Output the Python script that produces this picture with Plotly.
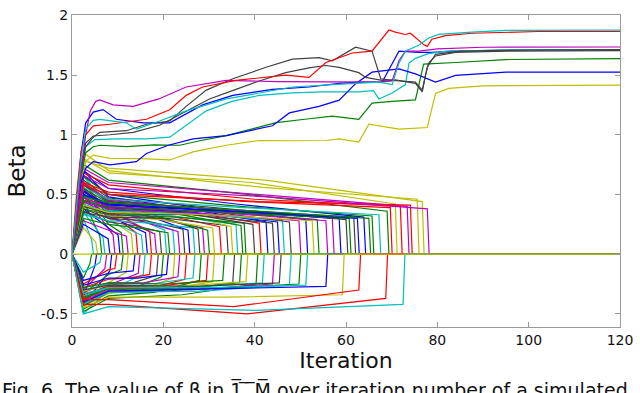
import plotly.graph_objects as go

# old MATLAB line colour order
COLORS = {"b": "#0000ff", "g": "#008000", "r": "#ff0000", "c": "#00bfbf",
          "m": "#bf00bf", "y": "#bfbf00", "k": "#404040"}

# coefficients that drop out of the model, positive side
pos_drop = [4.3, 5.2, 6.1, 6.8, 7.9, 9.0, 10.1, 10.8, 11.9, 13.0, 14.0, 15.2, 16.1, 17.0, 18.1, 19.2,
            20.3, 21.0, 22.1, 23.2, 24.3, 25.4, 26.5, 27.6, 28.6, 29.7, 30.8, 32.3, 33.8, 34.8, 35.9,
            37.0, 37.7, 39.6, 41.0, 42.5, 43.9, 45.0, 46.1, 47.6, 49.7, 51.2, 52.6, 53.7, 55.6, 57.0,
            58.5, 60.0, 60.7, 61.7, 62.5, 63.9, 65.0, 65.7, 67.2, 69.0, 69.7, 70.8, 71.9, 73.4, 74.1,
            75.6, 76.7, 77.8]
pos_peak = [0.30, 0.22, 0.45, 0.35, 0.25, 0.50, 0.38, 0.55, 0.28, 0.42, 0.60, 0.33, 0.48, 0.40, 0.52,
            0.36, 0.65, 0.30, 0.45, 0.55, 0.38, 0.50, 0.34, 0.60, 0.44, 0.40, 0.52, 0.47, 0.35, 0.62,
            0.42, 0.50, 0.38, 0.56, 0.45, 0.70, 0.40, 0.53, 0.48, 0.58, 0.44, 0.66, 0.41, 0.55, 0.47,
            0.60, 0.50, 0.62, 0.45, 0.58, 0.52, 0.70, 0.48, 0.65, 0.56, 0.75, 0.60, 0.80, 0.68, 0.72,
            0.58, 0.85, 0.78, 0.66]
pos_it8 = [None] * 6 + [0.22, 0.25, 0.20, 0.30, 0.35, 0.28, 0.32, 0.36, 0.30, 0.27, 0.42, 0.25, 0.38,
                        0.33, 0.30, 0.40, 0.28, 0.45, 0.34, 0.36, 0.32, 0.38, 0.31, 0.44, 0.35, 0.40,
                        0.33, 0.37, 0.42, 0.48, 0.34, 0.39, 0.36, 0.46, 0.38, 0.50, 0.35, 0.43, 0.40,
                        0.45, 0.41, 0.47, 0.39, 0.44, 0.42, 0.55, 0.43, 0.50, 0.46, 0.62, 0.52, 0.68,
                        0.58, 0.60, 0.50, 0.70, 0.72, 0.55]
pos_mid = [None] * 12 + [0.25, 0.28, 0.26, 0.24, 0.30, 0.22, 0.30, 0.27, 0.28, 0.32, 0.26, 0.33, 0.30,
                         0.31, 0.29, 0.33, 0.30, 0.36, 0.32, 0.34, 0.31, 0.35, 0.36, 0.38, 0.33, 0.35,
                         0.34, 0.37, 0.34, 0.38, 0.33, 0.36, 0.35, 0.37, 0.36, 0.38, 0.35, 0.37, 0.36,
                         0.42, 0.37, 0.40, 0.39, 0.50, 0.44, 0.60, 0.46, 0.50, 0.44, 0.56, 0.62, 0.48]
pos_end = [0.12, 0.10, 0.15, 0.14, 0.13, 0.16, 0.16, 0.18, 0.15, 0.17,
           0.18, 0.16, 0.18, 0.19, 0.17, 0.19, 0.20, 0.18, 0.20, 0.19,
           0.21, 0.20, 0.22, 0.21, 0.22, 0.20, 0.22, 0.23, 0.24, 0.23,
           0.25, 0.24, 0.26, 0.25, 0.26, 0.27, 0.26, 0.27, 0.28, 0.27,
           0.28, 0.29, 0.28, 0.29, 0.28, 0.30, 0.30, 0.29, 0.30, 0.31,
           0.30, 0.31, 0.30, 0.32, 0.33, 0.36, 0.39, 0.42, 0.40, 0.40,
           0.41, 0.46, 0.44, 0.38]
pos_color = "cygcbmbgmyrcbrmkcgcmkbckmgyrkycggkrbkbckmbygmmbkgkbbggcgryrmryym"

# coefficients that drop out of the model, negative side
neg_drop = [3.9, 5.0, 6.1, 7.2, 8.3, 9.4, 10.8, 11.9, 13.4, 14.5, 15.6, 17.0, 18.5, 19.6, 20.7, 22.1,
            23.2, 24.7, 26.5, 27.9, 29.4, 30.8, 33.0, 35.2, 36.7, 38.1, 40.3, 41.7, 43.9, 45.4, 47.6,
            49.7, 51.2, 55.6, 59.2, 62.8, 68.7, 72.5]
neg_peak = [-0.20, -0.35, -0.15, -0.30, -0.42, -0.25, -0.33, -0.45, -0.22, -0.38, -0.50, -0.28, -0.36,
            -0.41, -0.26, -0.44, -0.32, -0.38, -0.30, -0.46, -0.34, -0.40, -0.28, -0.43, -0.36, -0.31,
            -0.48, -0.35, -0.39, -0.30, -0.42, -0.37, -0.33, -0.40, -0.45, -0.38, -0.42, -0.50]
neg_it8 = [None] * 5 + [-0.13, -0.17, -0.24, -0.16, -0.26, -0.30, -0.21, -0.26, -0.31, -0.20, -0.33,
                        -0.24, -0.29, -0.25, -0.35, -0.27, -0.31, -0.24, -0.32, -0.28, -0.26, -0.37,
                        -0.28, -0.30, -0.26, -0.32, -0.29, -0.28, -0.31, -0.36, -0.38, -0.42, -0.44]
neg_mid = [None] * 11 + [-0.20, -0.24, -0.28, -0.20, -0.30, -0.24, -0.29, -0.25, -0.32, -0.27, -0.30,
                         -0.25, -0.31, -0.29, -0.27, -0.34, -0.28, -0.30, -0.27, -0.31, -0.29, -0.28,
                         -0.29, -0.36, -0.44, -0.50, -0.47]
neg_end = [-0.08, -0.10, -0.07, -0.12, -0.14, -0.12, -0.13, -0.15, -0.14, -0.16,
           -0.17, -0.17, -0.18, -0.19, -0.17, -0.20, -0.19, -0.21, -0.20, -0.22,
           -0.22, -0.23, -0.22, -0.24, -0.24, -0.23, -0.25, -0.24, -0.25, -0.24,
           -0.26, -0.25, -0.26, -0.27, -0.34, -0.30, -0.37, -0.42]
neg_color = "gbcmbrgybmcrkgbymrcgrygkgygcmkcgcbyrrc"

# coefficients that stay in the model
red_x = [0, 1, 2, 3, 4.65, 8.3, 16.3, 21.4, 25.0, 28.6, 35.9, 46.8, 51.9, 55.6, 61.4, 65.7, 69.4,
         70.8, 73.0, 74.1, 77.0, 77.8, 78.8, 81.8, 87.6, 102, 120]
red_y = [0, 0.5, 0.86, 1.0, 1.074, 1.088, 1.13, 1.21, 1.33, 1.40, 1.455, 1.50, 1.48, 1.605, 1.685,
         1.70, 1.877, 1.86, 1.84, 1.85, 1.755, 1.74, 1.80, 1.83, 1.85, 1.865, 1.865]
mag_x = [0, 1, 2, 3, 4, 5.2, 6.1, 9, 13.4, 19, 25, 33.8, 45, 55, 62.8, 67, 70.1, 71.6, 73.0, 76, 80,
         90, 120]
mag_y = [0, 0.3, 0.7, 1.0, 1.2, 1.28, 1.292, 1.25, 1.238, 1.30, 1.40, 1.456, 1.445, 1.44, 1.442, 1.44,
         1.45, 1.62, 1.70, 1.70, 1.72, 1.733, 1.735]
blk1_x = [0, 1, 2, 3, 4.65, 6.1, 11.9, 16.3, 21.4, 25, 29.4, 35.2, 42.5, 48.3, 54.1, 57, 62.1, 65.7,
          67.6, 70.1, 75.2, 76.7, 77.8, 79.6, 85, 100, 120]
blk1_y = [0, 0.3, 0.7, 0.9, 0.98, 1.02, 1.034, 1.088, 1.115, 1.238, 1.374, 1.469, 1.565, 1.633, 1.646,
          1.619, 1.733, 1.70, 1.469, 1.456, 1.442, 1.374, 1.565, 1.674, 1.70, 1.71, 1.714]
blk2_x = [0, 1, 2, 3, 4.65, 8.3, 13.4, 19.2, 25, 30.1, 35.9, 41, 46.8, 51.9, 55.6, 58.5, 62.8, 64.3,
          67.9, 70.8, 75.2, 76.7, 77.4, 78.1, 79.6, 84, 95, 120]
blk2_y = [0, 0.35, 0.75, 0.93, 0.99, 1.0, 1.02, 1.08, 1.2, 1.30, 1.38, 1.45, 1.52, 1.56, 1.58, 1.565,
          1.52, 1.48, 1.455, 1.46, 1.43, 1.36, 1.50, 1.60, 1.66, 1.69, 1.70, 1.705]
cya1_x = [0, 1, 2, 3, 4.65, 6.1, 11.9, 14.1, 19.2, 25, 33.8, 41, 48.3, 57, 62.8, 67.2, 70.1, 71.6,
          73.0, 75.9, 78.1, 80.3, 87.6, 95, 120]
cya1_y = [0, 0.4, 0.8, 1.05, 1.12, 1.129, 1.10, 1.047, 1.115, 1.20, 1.30, 1.35, 1.40, 1.42, 1.43, 1.44,
          1.42, 1.60, 1.70, 1.75, 1.81, 1.84, 1.86, 1.875, 1.877]
cya2_x = [0, 1, 2, 3, 5, 10, 16.3, 21.4, 29.4, 35, 41, 48.3, 55, 62.8, 66, 67.2, 70.1, 73, 73.8, 75.2,
          78, 82, 95, 120]
cya2_y = [0, 0.3, 0.7, 0.9, 0.96, 0.966, 0.966, 0.98, 1.20, 1.28, 1.33, 1.35, 1.36, 1.36, 1.37, 1.30,
          1.35, 1.42, 1.60, 1.64, 1.68, 1.70, 1.71, 1.714]
blu1_x = [0, 1, 2, 3, 4.65, 6.8, 9.7, 15.6, 21.4, 28.6, 35.2, 43.9, 51.9, 58.5, 62.8, 67.9, 70.1,
          71.6, 75.9, 78.8, 84, 95, 120]
blu1_y = [0, 0.4, 0.85, 1.1, 1.19, 1.211, 1.13, 1.10, 1.10, 1.25, 1.33, 1.38, 1.40, 1.43, 1.44, 1.44,
          1.60, 1.70, 1.69, 1.69, 1.70, 1.71, 1.712]
blu2_x = [0, 1, 2, 3, 4.65, 8.3, 14.1, 16.3, 21.1, 26.5, 33.8, 43.9, 47.6, 54.1, 58.5, 62.1, 65.7,
          71.6, 75.2, 79.6, 84, 95, 120]
blu2_y = [0, 0.3, 0.6, 0.72, 0.775, 0.748, 0.775, 0.843, 0.912, 0.966, 0.993, 1.075, 1.183, 1.238,
          1.29, 1.428, 1.524, 1.551, 1.51, 1.442, 1.497, 1.524, 1.525]
grn_x = [0, 1, 2, 3, 4.65, 6.1, 12, 18, 23.6, 28, 33.8, 44.7, 51, 57, 62.8, 65.7, 70, 75.2, 77.0, 80,
         84, 95, 120]
grn_y = [0, 0.3, 0.65, 0.85, 0.9, 0.912, 0.90, 0.915, 0.912, 0.95, 0.993, 1.102, 1.13, 1.156, 1.129,
         1.265, 1.28, 1.292, 1.592, 1.60, 1.605, 1.63, 1.638]
yel_x = [0, 1, 2, 3, 4.65, 8.3, 15, 21.4, 26.5, 33.8, 41, 48, 55.6, 58.5, 62.8, 65, 71.6, 77.8, 79.6,
         82.5, 90, 120]
yel_y = [0, 0.3, 0.6, 0.78, 0.83, 0.803, 0.80, 0.789, 0.857, 0.912, 0.952, 0.95, 0.952, 0.966, 0.939,
         1.088, 1.047, 1.061, 1.347, 1.388, 1.41, 1.415]

x_ticks = [0, 20, 40, 60, 80, 100, 120]
y_ticks = [-0.5, 0, 0.5, 1, 1.5, 2]
y_labels = ["-0.5", "0", "0.5", "1", "1.5", "2"]


def drop_path(d, peak, v8, vmid, end):
    xs, ys = [0, 2.5], [0, peak]
    if v8 is not None:
        xs.append(8)
        ys.append(v8)
    if vmid is not None:
        xs.append((8 + d) / 2)
        ys.append(vmid)
    xs += [d, d + 0.4, 120]
    ys += [end, 0, 0]
    return xs, ys


fig = go.Figure()

for i in range(len(pos_drop)):
    xs, ys = drop_path(pos_drop[i], pos_peak[i], pos_it8[i], pos_mid[i], pos_end[i])
    fig.add_trace(go.Scatter(x=xs, y=ys, mode="lines",
                             line=dict(color=COLORS[pos_color[i]], width=1.2)))

for i in range(len(neg_drop)):
    xs, ys = drop_path(neg_drop[i], neg_peak[i], neg_it8[i], neg_mid[i], neg_end[i])
    fig.add_trace(go.Scatter(x=xs, y=ys, mode="lines",
                             line=dict(color=COLORS[neg_color[i]], width=1.2)))

survivors = [(blu1_x, blu1_y, "b"), (cya2_x, cya2_y, "c"), (yel_x, yel_y, "y"),
             (grn_x, grn_y, "g"), (blu2_x, blu2_y, "b"), (blk2_x, blk2_y, "k"),
             (blk1_x, blk1_y, "k"), (mag_x, mag_y, "m"), (red_x, red_y, "r"),
             (cya1_x, cya1_y, "c")]
for xs, ys, c in survivors:
    fig.add_trace(go.Scatter(x=xs, y=ys, mode="lines", line=dict(color=COLORS[c], width=1.2)))

# coefficient that never enters, drawn last so the zero line is yellow
fig.add_trace(go.Scatter(x=[0, 120], y=[0, 0], mode="lines",
                         line=dict(color=COLORS["y"], width=1.2)))

axis_style = dict(showline=True, mirror="ticks", linecolor="#9a9a9a", linewidth=1,
                  ticks="inside", ticklen=5, tickcolor="#9a9a9a", showgrid=False,
                  zeroline=False, tickfont=dict(family="DejaVu Sans", size=14, color="#111"))

fig.update_layout(
    width=640, height=393,
    margin=dict(l=72, r=18, t=7, b=66),
    paper_bgcolor="white", plot_bgcolor="white",
    showlegend=False,
    xaxis=dict(range=[0, 120], tickvals=x_ticks, ticktext=[str(v) for v in x_ticks],
               title=dict(text="Iteration", font=dict(family="DejaVu Sans", size=22, color="#111"),
                          standoff=0),
               **axis_style),
    yaxis=dict(range=[-0.61, 2.003], tickvals=y_ticks, ticktext=y_labels,
               title=dict(text="Beta", font=dict(family="DejaVu Sans", size=23, color="#111"),
                          standoff=8),
               **axis_style),
    annotations=[dict(text="Fig. 6. The value of β in 1\u0305.\u0305.\u0305M\u0305 over iteration number of a simulated",
                      xref="paper", yref="paper", x=-0.131, y=-0.158, xanchor="left", yanchor="top",
                      showarrow=False,
                      font=dict(family="DejaVu Sans", size=19, color="#111"))],
)

# the page's default 8px body margin would shift the figure
fig.write_html("out.html", config={"displayModeBar": False},
               post_script="document.body.style.margin='0';")
